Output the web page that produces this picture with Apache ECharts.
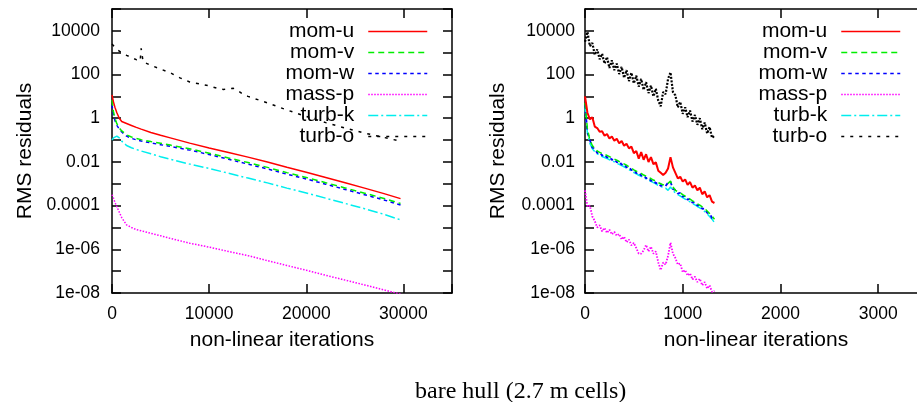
<!DOCTYPE html>
<html><head><meta charset="utf-8">
<script src="https://cdn.jsdelivr.net/npm/echarts@6/dist/echarts.min.js"></script>
<style>html,body{margin:0;padding:0;background:#fff}#c{width:917px;height:402px}</style>
</head><body><div id="c"></div>
<script>
// ---------- data (RMS residuals stored as log10 exponents) ----------
const seriesNames = ['mom-u', 'mom-v', 'mom-w', 'mass-p', 'turb-k', 'turb-o'];
const seriesColors = ['#ff0000', '#00ee00', '#0000ff', '#ff00ff', '#00eeee', '#000000'];

// left panel
const iterL = [0, 150, 300, 500, 750, 1000, 1500, 2000, 2500, 3000, 4000, 5000, 6000, 8000, 10000, 12000, 14000, 16000, 18000, 20000, 22000, 24000, 26000, 28000, 29700];
const momU_L = [1.07, 0.75, 0.5, 0.25, 0.0, -0.15, -0.24, -0.33, -0.42, -0.5, -0.65, -0.78, -0.9, -1.14, -1.36, -1.57, -1.78, -2.0, -2.24, -2.47, -2.71, -2.95, -3.2, -3.45, -3.68];
const momV_L = [0.84, 0.3, 0.0, -0.25, -0.45, -0.58, -0.76, -0.86, -0.93, -0.98, -1.07, -1.15, -1.23, -1.4, -1.6, -1.82, -2.03, -2.25, -2.49, -2.71, -2.95, -3.19, -3.43, -3.67, -3.9];
const momW_L = [0.61, 0.15, -0.1, -0.33, -0.5, -0.63, -0.82, -0.92, -0.99, -1.04, -1.13, -1.21, -1.29, -1.46, -1.66, -1.88, -2.1, -2.32, -2.56, -2.78, -3.02, -3.26, -3.5, -3.74, -3.97];
const massP_L = [-3.5, -3.65, -3.85, -4.05, -4.3, -4.55, -4.88, -5.0, -5.1, -5.15, -5.27, -5.38, -5.5, -5.72, -5.9, -6.1, -6.29, -6.52, -6.74, -6.96, -7.19, -7.41, -7.63, -7.86, -8.05];
const turbK_L = [-1.0, -0.9, -0.83, -0.82, -0.9, -1.05, -1.25, -1.35, -1.43, -1.5, -1.63, -1.76, -1.88, -2.1, -2.3, -2.52, -2.74, -2.96, -3.2, -3.42, -3.66, -3.9, -4.14, -4.4, -4.65];
const iterO_L = [0, 500, 1000, 1500, 2000, 2500, 2900, 3000, 3100, 3200, 4000, 5000, 6000, 7000, 8000, 9000, 10000, 11000, 11500, 12000, 12500, 13000, 13500, 14000, 15000, 16000, 18000, 20000, 22000, 24000, 26000, 28000, 29700];
const turbO_L = [3.4, 3.15, 3.0, 2.88, 2.78, 2.68, 2.62, 3.2, 2.9, 2.58, 2.42, 2.25, 2.08, 1.85, 1.66, 1.57, 1.48, 1.35, 1.32, 1.36, 1.37, 1.25, 1.1, 1.0, 0.85, 0.7, 0.38, 0.08, -0.2, -0.45, -0.68, -0.88, -1.05];

// right panel
const iterR = [0, 25, 50, 75, 100, 125, 150, 175, 200, 225, 250, 275, 300, 325, 350, 375, 400, 425, 450, 475, 500, 525, 550, 575, 600, 625, 650, 675, 700, 725, 750, 775, 800, 825, 850, 875, 900, 925, 950, 975, 1000, 1025, 1050, 1075, 1100, 1125, 1150, 1175, 1200, 1225, 1250, 1275, 1300, 1325];
const momU_R = [1.0, 0.25, -0.05, 0.05, -0.38, -0.45, -0.62, -0.6, -0.8, -0.72, -0.93, -0.84, -1.03, -0.94, -1.15, -1.04, -1.26, -1.17, -1.38, -1.3, -1.6, -1.5, -1.85, -1.55, -1.9, -1.65, -2.0, -1.78, -2.1, -2.02, -2.4, -2.5, -2.6, -2.5, -2.3, -1.78, -2.25, -2.5, -2.75, -2.68, -2.9, -2.8, -3.05, -2.92, -3.18, -3.08, -3.3, -3.18, -3.48, -3.35, -3.62, -3.52, -3.82, -3.88];
const momV_R = [0.7, -0.5, -1.0, -1.25, -1.4, -1.5, -1.56, -1.62, -1.66, -1.7, -1.76, -1.82, -1.87, -1.92, -1.98, -2.03, -2.09, -2.15, -2.22, -2.29, -2.36, -2.42, -2.48, -2.53, -2.6, -2.65, -2.72, -2.76, -2.83, -2.88, -2.95, -3.0, -3.05, -3.02, -2.98, -2.88, -3.15, -3.3, -3.36, -3.42, -3.5, -3.57, -3.64, -3.7, -3.78, -3.84, -3.92, -3.98, -4.06, -4.14, -4.25, -4.36, -4.48, -4.62];
const momW_R = [0.6, -0.65, -1.0, -1.35, -1.38, -1.6, -1.55, -1.71, -1.65, -1.8, -1.75, -1.91, -1.85, -2.02, -1.97, -2.13, -2.08, -2.25, -2.21, -2.38, -2.35, -2.52, -2.47, -2.63, -2.59, -2.75, -2.71, -2.87, -2.82, -2.98, -2.95, -3.1, -3.05, -3.1, -2.95, -2.9, -3.25, -3.28, -3.45, -3.41, -3.59, -3.55, -3.73, -3.69, -3.87, -3.83, -4.0, -3.97, -4.15, -4.13, -4.33, -4.35, -4.57, -4.66];
const massP_R = [-3.3, -4.05, -4.0, -4.5, -4.7, -5.0, -4.9, -5.18, -5.02, -5.25, -5.1, -5.32, -5.2, -5.38, -5.3, -5.55, -5.42, -5.68, -5.55, -5.82, -5.7, -5.95, -6.2, -6.2, -6.05, -5.8, -6.1, -5.88, -6.2, -6.1, -6.6, -6.95, -6.6, -6.7, -6.3, -5.7, -6.2, -6.4, -6.7, -6.65, -7.05, -6.95, -7.2, -7.1, -7.38, -7.25, -7.5, -7.35, -7.65, -7.5, -7.8, -7.65, -7.95, -7.9];
const turbK_R = [0.5, -0.7, -1.15, -1.4, -1.53, -1.63, -1.7, -1.75, -1.8, -1.84, -1.9, -1.95, -2.0, -2.06, -2.11, -2.17, -2.22, -2.28, -2.35, -2.42, -2.49, -2.55, -2.61, -2.66, -2.72, -2.78, -2.84, -2.89, -2.95, -3.0, -3.08, -3.12, -3.18, -3.2, -3.3, -3.15, -3.3, -3.43, -3.5, -3.56, -3.63, -3.7, -3.77, -3.83, -3.9, -3.97, -4.04, -4.1, -4.18, -4.27, -4.38, -4.5, -4.62, -4.78];
const turbO_R = [3.5, 3.95, 3.3, 3.45, 2.9, 3.15, 2.7, 2.95, 2.5, 2.8, 2.3, 2.65, 2.2, 2.5, 2.02, 2.35, 1.85, 2.2, 1.7, 2.08, 1.6, 1.95, 1.45, 1.8, 1.3, 1.65, 1.15, 1.5, 1.0, 1.35, 0.8, 0.55, 1.2, 1.1, 1.8, 2.1, 1.2, 1.05, 0.5, 0.75, 0.2, 0.5, 0.05, 0.35, -0.15, 0.15, -0.3, 0.0, -0.5, -0.2, -0.7, -0.4, -0.9, -0.8];

// tick labels
const yTickExponents = [-8, -6, -4, -2, 0, 2, 4];
const yTickLabels = ['1e-08', '1e-06', '0.0001', '0.01', '1', '100', '10000'];
const xTicksL = [0, 10000, 20000, 30000];
const xTicksR = [0, 1000, 2000, 3000];
const titleText = 'bare hull (2.7 m cells)';
const xName = 'non-linear iterations';
const yName = 'RMS residuals';

// ---------- chart ----------
const FONT = '"Liberation Sans", Arial, Helvetica, sans-serif';
const dashesL = ['solid', [6, 4], [3.5, 3.5], [1.5, 1.5], [10, 3, 2, 3], [3, 6]];
const dashesR = ['solid', [6, 4], [3.5, 3.5], [1.5, 1.5], [10, 3, 2, 3], [2, 1.5]];
const widthsR = [2, 1.5, 1.8, 1.8, 1.5, 2.2];

function pairs(xs, es) { return xs.map((x, i) => [x, Math.pow(10, es[i])]); }

function yLabel(v) {
  const e = Math.round(Math.log10(v));
  const k = yTickExponents.indexOf(e);
  return k >= 0 ? yTickLabels[k] : '';
}

function xAxisDef(grid, max, interval, ticks, bottom) {
  return {
    type: 'value', gridIndex: grid, position: bottom ? 'bottom' : 'top',
    min: 0, max: max, interval: interval,
    axisLine: { show: true, onZero: false, lineStyle: { color: '#000', width: 1.5 } },
    axisTick: { show: true, inside: true, length: 9, lineStyle: { color: '#000', width: 1.5 } },
    axisLabel: { show: bottom, color: '#000', fontFamily: FONT, fontSize: 17.5, margin: 12,
      formatter: v => (ticks.indexOf(v) >= 0 ? String(v) : '') },
    splitLine: { show: false },
    name: bottom ? xName : '', nameLocation: 'middle', nameGap: 37,
    nameTextStyle: { color: '#000', fontFamily: FONT, fontSize: 21 }
  };
}
function yAxisDef(grid, left, margin) {
  return {
    type: 'log', logBase: 10, gridIndex: grid, position: left ? 'left' : 'right',
    min: 1e-8, max: 1e5, interval: 1,
    axisLine: { show: true, onZero: false, lineStyle: { color: '#000', width: 1.5 } },
    axisTick: { show: true, inside: true, length: 9, lineStyle: { color: '#000', width: 1.5 } },
    axisLabel: { show: left, color: '#000', fontFamily: FONT, fontSize: 17.5, margin: margin, formatter: yLabel },
    splitLine: { show: false }, minorTick: { show: false },
    name: left ? yName : '', nameLocation: 'middle', nameGap: 76,
    nameTextStyle: { color: '#000', fontFamily: FONT, fontSize: 21 }
  };
}

const leftSets = [pairs(iterL, momU_L), pairs(iterL, momV_L), pairs(iterL, momW_L), pairs(iterL, massP_L), pairs(iterL, turbK_L), pairs(iterO_L, turbO_L)];
const rightSets = [pairs(iterR, momU_R), pairs(iterR, momV_R), pairs(iterR, momW_R), pairs(iterR, massP_R), pairs(iterR, turbK_R), pairs(iterR, turbO_R)];

const series = [];
[leftSets, rightSets].forEach((sets, g) => {
  sets.forEach((d, i) => {
    series.push({
      type: 'line', name: seriesNames[i], xAxisIndex: g * 2, yAxisIndex: g * 2,
      data: d, symbol: 'none', showSymbol: false, smooth: false, clip: true,
      color: seriesColors[i],
      lineStyle: { color: seriesColors[i], width: g ? widthsR[i] : 1.5, type: (g ? dashesR : dashesL)[i] },
      z: 10 - i
    });
  });
});

function legendDef(right) {
  return {
    orient: 'vertical', align: 'right', right: right, top: 21, padding: 0,
    itemWidth: 59, itemHeight: 14, itemGap: 0,
    data: seriesNames, selectedMode: false,
    itemStyle: { opacity: 0 },
    lineStyle: { width: 1.5 },
    textStyle: { color: '#000', fontFamily: FONT, fontSize: 21, lineHeight: 20.6, padding: [0, 9, 0, 0] }
  };
}

const option = {
  animation: false,
  backgroundColor: '#fff',
  title: { text: titleText, left: 415, top: 380, padding: 0,
    textStyle: { color: '#000', fontFamily: '"Liberation Serif", "Times New Roman", serif', fontSize: 24, fontWeight: 'normal' } },
  grid: [
    { left: 112, top: 9, width: 340, height: 284, outerBoundsMode: 'none', containLabel: false },
    { left: 585, top: 9, width: 342, height: 284, outerBoundsMode: 'none', containLabel: false }
  ],
  xAxis: [xAxisDef(0, 35000, 10000, xTicksL, true), xAxisDef(0, 35000, 10000, xTicksL, false),
          xAxisDef(1, 3500, 1000, xTicksR, true), xAxisDef(1, 3500, 1000, xTicksR, false)],
  yAxis: [yAxisDef(0, true, 12), yAxisDef(0, false, 12), yAxisDef(1, true, 10), yAxisDef(1, false, 10)],
  legend: [legendDef(489), legendDef(16)],
  series: series
};

const chart = echarts.init(document.getElementById('c'), null, { renderer: 'canvas' });
chart.setOption(option);
</script>
</body></html>
